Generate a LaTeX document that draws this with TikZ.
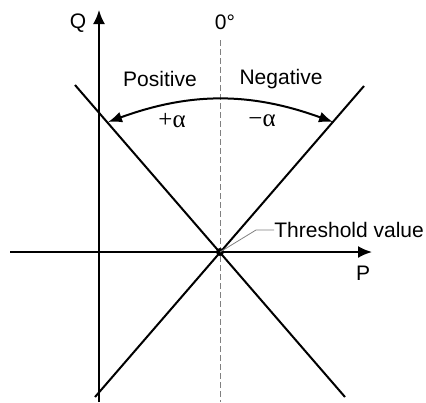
\documentclass[tikz,border=0pt]{standalone}
\usepackage{fontspec}
\setmainfont{Liberation Sans}
\newfontfamily\greekfont{Liberation Serif}
\usetikzlibrary{arrows.meta,calc,positioning}

\tikzset{
  axis/.style={line width=1pt,-{Latex[length=7pt,width=6pt]}},
  char/.style={line width=1pt},
  zeroline/.style={gray,line width=0.5pt,dash pattern=on 3pt off 1.5pt},
  swing/.style={line width=1pt,{Latex[length=7pt,width=5.5pt]}-{Latex[length=7pt,width=5.5pt]}},
  lbl/.style={font=\fontsize{10.5}{12}\selectfont,inner sep=0pt},
  glbl/.style={font=\greekfont\fontsize{12.5}{14}\selectfont,inner sep=0pt},
}

\begin{document}
\begin{tikzpicture}[x=0.5pt,y=-0.5pt]
    \useasboundingbox (0,0) rectangle (426,402);
    % axes
    \coordinate (qlow) at (99,402);
    \coordinate (qtip) at (99,10);
    \coordinate (plow) at (10,252);
    \coordinate (ptip) at (372,252);
    \coordinate (origin) at (220,252);
    \draw[axis] (qlow) -- (qtip);
    \draw[axis] (plow) -- (ptip);
    \node[lbl] (qlabel) at (78,23) {Q};
    \node[lbl] (plabel) at (363,273) {P};
    % zero degree line
    \coordinate (ztop) at (220,40);
    \coordinate (zlow) at (220,402);
    \draw[zeroline] (ztop) -- (zlow);
    \node[lbl] (zerolabel) at (225,22) {0°};
    % characteristic lines
    \coordinate (ltop) at (75,85);
    \coordinate (llow) at (345,397);
    \coordinate (rtop) at (364,86);
    \coordinate (rlow) at (95,397);
    \draw[char] (ltop) -- (llow);
    \draw[char] (rlow) -- (rtop);
    \fill (origin) circle[radius=2pt];
    % angle arc
    \coordinate (aleft) at (108,122);
    \coordinate (aright) at (333,122);
    \draw[swing] (aleft) to[bend left=20] (aright);
    \node[lbl] (poslabel) at (160,79) {Positive};
    \node[lbl] (neglabel) at (281,79) {Negative};
    \node[glbl] (plusalpha) at (172,121) {+α};
    \node[glbl] (minusalpha) at (262,121) {−α};
    % threshold
    \node[lbl,anchor=west] (thresh) at (274,230) {Threshold value};
    \coordinate (bend) at (256,230);
    \draw[gray,line width=0.4pt] (origin) -- (bend) -- (thresh.west);
\end{tikzpicture}
\end{document}
